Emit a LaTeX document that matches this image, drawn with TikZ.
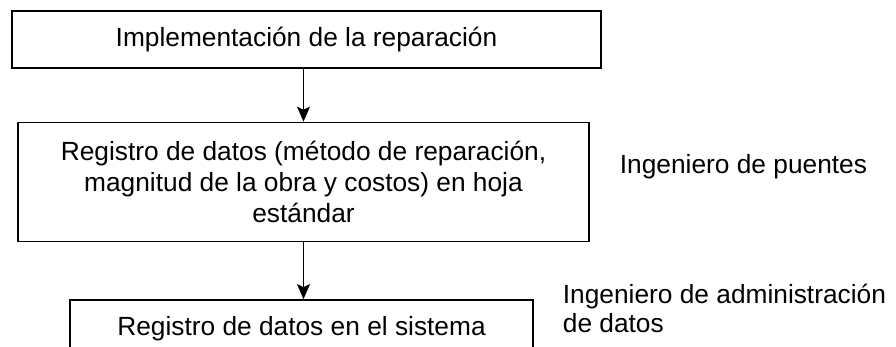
\documentclass[tikz,border=0pt]{standalone}
\usepackage{fontspec}
\setmainfont{Liberation Sans}
\usetikzlibrary{positioning,arrows.meta}

\begin{document}
\begin{tikzpicture}[x=1pt,y=-1pt]
      \tikzset{
        box/.style={rectangle,draw,line width=1.4pt,inner sep=0pt,align=center,
          font=\fontsize{26.3}{31}\selectfont},
        role/.style={inner sep=0pt,align=left,font=\fontsize{26.3}{29}\selectfont},
        every edge/.style={draw,line width=1.4pt,-{Stealth[length=15pt,width=13pt,inset=3pt]}}
      }
      \useasboundingbox (0,0) rectangle (896,347);

      \node[box,minimum width=589pt,minimum height=57pt] (s1) at (306.5,39.5)
        {Implementación de la reparación};
      \node[box,minimum width=571pt,minimum height=119pt,below=53pt of s1,xshift=-3pt] (s2)
        {Registro de datos (método de reparación,\\magnitud de la obra y costos) en hoja\\estándar};
      \node[box,minimum width=463pt,minimum height=57pt,below=57pt of s2,xshift=-2pt] (s3)
        {Registro de datos en el sistema};

      \node[role,right=30pt of s2,yshift=15pt] (r1) {Ingeniero de puentes};
      \node[role,right=29pt of s3,yshift=20pt] (r2) {Ingeniero de administración\\de datos};

      \draw (s1.south -| s2.north) edge[] (s2.north)
            (s2.south) edge[] (s2.south |- s3.north);
    \end{tikzpicture}
\end{document}
